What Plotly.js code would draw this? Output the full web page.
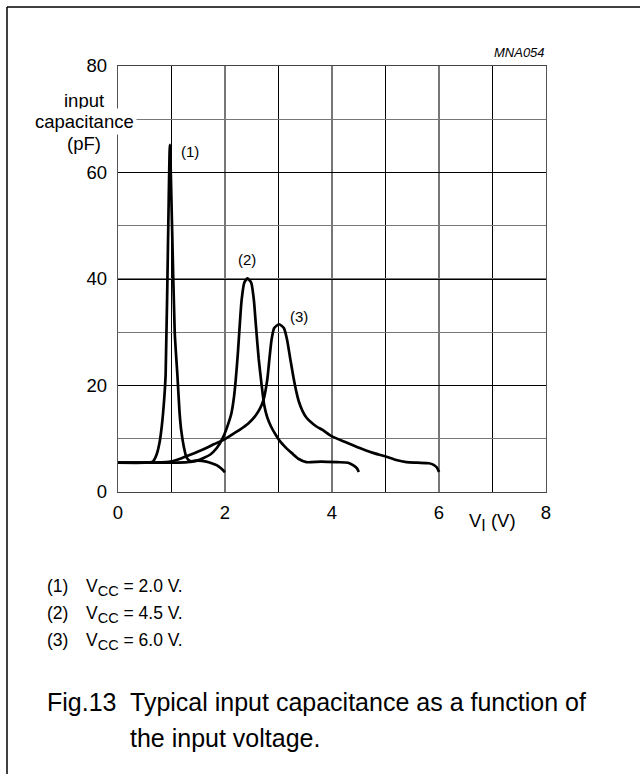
<!DOCTYPE html>
<html>
<head>
<meta charset="utf-8">
<script src="https://cdn.plot.ly/plotly-3.0.1.min.js"></script>
<style>
  html, body { margin: 0; padding: 0; background: #fff; }
  #chart { width: 640px; height: 774px; }
</style>
</head>
<body>
<div id="chart"></div>
<script>
// ---- data ----
// curve (1): VCC = 2.0 V
const v1 = [0, 0.5, 0.65, 0.72, 0.78, 0.82, 0.86, 0.89, 0.94, 0.97, 1.01, 1.06, 1.11, 1.15, 1.18, 1.23, 1.28, 1.35, 1.5, 1.65, 1.75, 1.85, 1.93, 2.0];
const c1 = [5.5, 5.5, 5.7, 7, 9.5, 12.5, 17, 22, 50, 65.2, 50, 30, 22, 15, 11.7, 8.5, 6.5, 5.8, 5.9, 5.7, 5.4, 5.0, 4.4, 3.7];
// curve (2): VCC = 4.5 V
const v2 = [0, 1.0, 1.3, 1.47, 1.6, 1.72, 1.85, 1.97, 2.06, 2.12, 2.17, 2.2, 2.24, 2.28, 2.31, 2.36, 2.42, 2.49, 2.54, 2.58, 2.63, 2.68, 2.73, 2.79, 2.86, 2.95, 3.03, 3.15, 3.25, 3.38, 3.52, 3.8, 4.1, 4.3, 4.4, 4.47, 4.5];
const c2 = [5.5, 5.5, 5.6, 5.9, 6.4, 7.0, 8.3, 10.4, 12.8, 14.8, 18, 21, 26, 32, 36, 39.3, 40.1, 39.3, 36, 31, 25, 20.5, 16.5, 14, 12.3, 10.7, 9.5, 8.2, 7.3, 6.2, 5.6, 5.7, 5.6, 5.5, 5.0, 4.4, 3.75];
// curve (3): VCC = 6.0 V
const v3 = [0, 0.9, 1.0, 1.2, 1.35, 1.5, 1.65, 1.8, 1.97, 2.12, 2.28, 2.43, 2.56, 2.65, 2.72, 2.79, 2.83, 2.87, 2.92, 3.01, 3.10, 3.16, 3.22, 3.28, 3.33, 3.38, 3.45, 3.52, 3.62, 3.71, 3.83, 3.99, 4.27, 4.52, 4.75, 4.99, 5.2, 5.39, 5.6, 5.81, 5.9, 5.96, 6.0];
const c3 = [5.5, 5.6, 5.75, 6.4, 7.0, 7.6, 8.25, 9.0, 9.8, 10.7, 11.7, 12.8, 14.2, 15.6, 17.3, 21.1, 25, 28.6, 30.8, 31.5, 30.8, 28.6, 25, 21.5, 19, 17, 15.2, 14.0, 13.0, 12.3, 11.6, 10.5, 9.3, 8.25, 7.4, 6.7, 6.0, 5.6, 5.5, 5.4, 5.1, 4.6, 3.75];

const curveLabels = ["(1)", "(2)", "(3)"];
const labelX = [1.35, 2.42, 3.38];
const labelY = [64, 43.6, 33];

const xTickVals = [0, 2, 4, 6, 8];
const yTickVals = [0, 20, 40, 60, 80];

const yTitleLines = ["input", "capacitance", "(pF)"];
const xTitle = "V<sub><span style=\"font-size:16px\">I</span></sub> (V)";
const figCode = "MNA054";

const legendKeys = ["(1)", "(2)", "(3)"];
const legendTexts = [
  "V<sub><span style=\"font-size:14.5px\">CC</span></sub> = 2.0 V.",
  "V<sub><span style=\"font-size:14.5px\">CC</span></sub> = 4.5 V.",
  "V<sub><span style=\"font-size:14.5px\">CC</span></sub> = 6.0 V."
];

const figNumber = "Fig.13";
const captionLines = ["Typical input capacitance as a function of", "the input voltage."];

// ---- layout helpers (pixel -> paper) ----
const W = 640, H = 774;
const L = 118, R = 546, T = 66, B = 492;
const px = x => (x - L) / (R - L);
const py = y => (B - y) / (B - T);

const FONT = "Liberation Sans, Arial, Helvetica, sans-serif";
const font = s => ({ family: FONT, size: s, color: "#000" });

function curve(x, y) {
  return {
    x: x, y: y, type: "scatter", mode: "lines",
    line: { color: "#000", width: 2.7, shape: "spline", smoothing: 0.6 },
    hoverinfo: "skip", showlegend: false
  };
}

const traces = [curve(v1, c1), curve(v2, c2), curve(v3, c3)];

function note(xPix, yPix, text, size, xanchor, extra) {
  return Object.assign({
    x: px(xPix), y: py(yPix), xref: "paper", yref: "paper",
    xanchor: xanchor || "center", yanchor: "middle",
    text: text, showarrow: false, font: font(size)
  }, extra || {});
}

const annotations = [];
// curve labels
curveLabels.forEach((t, i) => annotations.push({
  x: labelX[i], y: labelY[i], xref: "x", yref: "y", xanchor: "center", yanchor: "middle",
  text: t, showarrow: false, font: font(15)
}));
// y-axis title (three lines; the middle one masks the axis line)
const yTitleY = [101, 121, 143];
yTitleLines.forEach((t, i) => annotations.push(
  note(84, yTitleY[i], t, 18.5, "center", i === 1 ? { bgcolor: "#fff", borderpad: 2 } : {})
));
// x-axis title
annotations.push(note(492, 522, xTitle, 18.5, "center"));
// figure code
annotations.push(note(547, 53, "<i>" + figCode + "</i>", 13, "right"));
// legend notes
legendKeys.forEach((k, i) => {
  const yy = 586 + 27 * i;
  annotations.push(note(45, yy, k, 17.5, "left"));
  annotations.push(note(84, yy + 1, legendTexts[i], 17.5, "left"));
});
// caption
annotations.push(note(45, 702, figNumber, 25, "left"));
captionLines.forEach((t, i) => annotations.push(note(128, 702 + 36 * i, t, 25, "left")));

const shapes = [
  { type: "line", xref: "paper", yref: "paper", x0: px(7), x1: px(7), y0: py(7), y1: py(780), line: { color: "#000", width: 1.5 } },
  { type: "line", xref: "paper", yref: "paper", x0: px(7), x1: px(640), y0: py(7), y1: py(7), line: { color: "#000", width: 1.5 } }
];

const layout = {
  width: W, height: H,
  margin: { l: L, r: W - R, t: T, b: H - B, pad: 0 },
  paper_bgcolor: "#fff", plot_bgcolor: "#fff",
  showlegend: false,
  font: font(18.5),
  xaxis: {
    range: [0, 8], tickvals: xTickVals, ticktext: xTickVals.map(String),
    showgrid: true, gridcolor: "#777", gridwidth: 1.3,
    minor: { dtick: 1, showgrid: true, gridcolor: "#000", gridwidth: 1 },
    zeroline: false, showline: true, mirror: true, linecolor: "#444", linewidth: 1.2,
    ticks: "", ticklabelstandoff: 4, tickfont: font(18.5),
    fixedrange: true
  },
  yaxis: {
    range: [0, 80], tickvals: yTickVals, ticktext: yTickVals.map(String),
    showgrid: true, gridcolor: "#000", gridwidth: 1,
    minor: { dtick: 10, showgrid: true, gridcolor: "#777", gridwidth: 1.3 },
    zeroline: false, showline: true, mirror: true, linecolor: "#555", linewidth: 1.2,
    ticks: "", ticklabelstandoff: 6, tickfont: font(18.5),
    fixedrange: true
  },
  annotations: annotations,
  shapes: shapes
};

Plotly.newPlot("chart", traces, layout, { displayModeBar: false, staticPlot: true });
</script>
</body>
</html>
